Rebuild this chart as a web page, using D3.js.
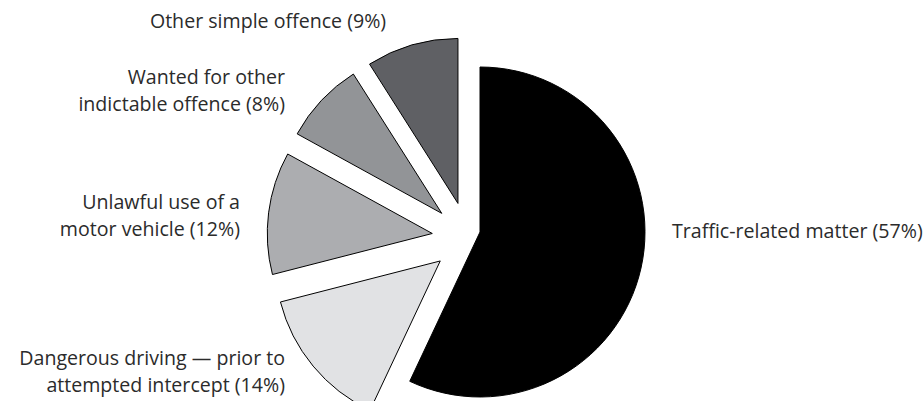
<!DOCTYPE html>
<html><head><meta charset="utf-8">
<script src="https://cdn.jsdelivr.net/npm/d3@7"></script>
<style>body{margin:0;background:#fff}svg{display:block}</style>
</head><body>
<svg id="chart" width="924" height="401"></svg>
<script>
const categories = [
  "Traffic-related matter",
  "Dangerous driving — prior to attempted intercept",
  "Unlawful use of a motor vehicle",
  "Wanted for other indictable offence",
  "Other simple offence"
];
const values = [57, 14, 12, 8, 9];
const labelLines = [
  ["Traffic-related matter (57%)"],
  ["Dangerous driving — prior to", "attempted intercept (14%)"],
  ["Unlawful use of a", "motor vehicle (12%)"],
  ["Wanted for other", "indictable offence (8%)"],
  ["Other simple offence (9%)"]
];
const colors = ["#000000", "#e1e2e4", "#acadb0", "#929497", "#5f6064"];

const W = 924, H = 401;
const cx = 480, cy = 232, R = 165;
const explode = 36;           // radial explode for small slices
const groupShift = [-12, 6];  // shift of the exploded group

const svg = d3.select("#chart");
const pie = d3.pie().sort(null).value(d => d).startAngle(0).endAngle(2 * Math.PI);
const arcs = pie(values);
const arc = d3.arc().innerRadius(0).outerRadius(R);

const g = svg.append("g").attr("transform", `translate(${cx},${cy})`);
g.selectAll("path").data(arcs).join("path")
  .attr("d", arc)
  .attr("fill", (d, i) => colors[i])
  .attr("stroke", "#000")
  .attr("stroke-width", 1)
  .attr("stroke-linejoin", "miter")
  .attr("transform", (d, i) => {
    if (i === 0) return null;
    const m = (d.startAngle + d.endAngle) / 2;
    const dx = groupShift[0] + explode * Math.sin(m);
    const dy = groupShift[1] - explode * Math.cos(m);
    return `translate(${dx},${dy})`;
  });

// labels
const labelPos = [
  {x: 672, y: 238, anchor: "start"},
  {x: 285, y: 365, anchor: "end"},
  {x: 240, y: 209, anchor: "end"},
  {x: 285, y: 84, anchor: "end"},
  {x: 268, y: 28, anchor: "middle"}
];
const lh = 26.5;
const font = "'Open Sans', 'Noto Sans', sans-serif";
labelLines.forEach((lines, i) => {
  const p = labelPos[i];
  const t = svg.append("text")
    .attr("x", p.x).attr("y", p.y)
    .attr("text-anchor", p.anchor)
    .attr("font-family", font)
    .attr("font-size", 19.6)
    .attr("fill", "#2b2b2b");
  lines.forEach((ln, j) => {
    t.append("tspan").attr("x", p.x).attr("dy", j === 0 ? 0 : lh).text(ln);
  });
});
</script>
</body></html>
